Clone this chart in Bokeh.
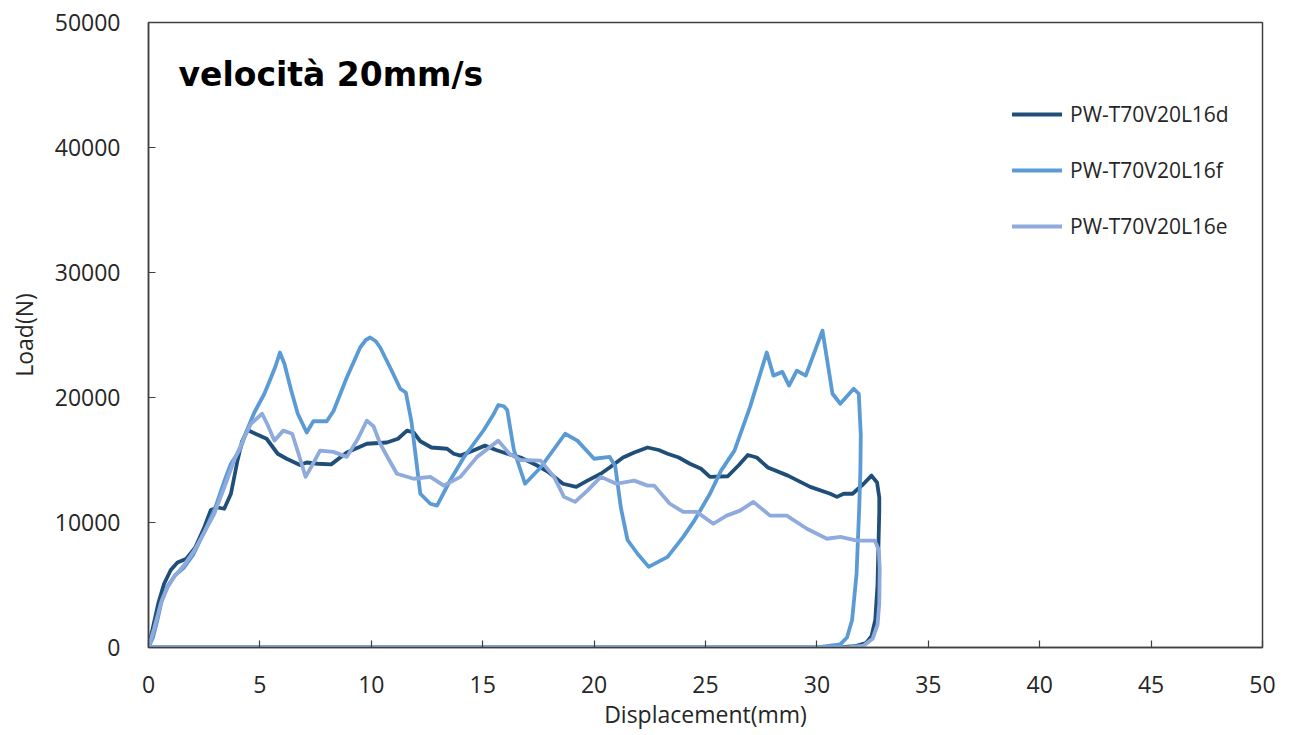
from bokeh.plotting import figure
from bokeh.models import Range1d, FixedTicker, Legend, LegendItem, Label
from bokeh.embed import file_html
from bokeh.resources import INLINE

# Load-displacement traces (loading branch, then unloading back along zero)
d_x = [0, 0.2, 0.45, 0.7, 1.0, 1.3, 1.7, 2.1, 2.5, 2.8, 3.1, 3.4, 3.7, 4.0, 4.2, 4.45,
       4.8, 5.3, 5.8, 6.2, 6.8, 7.1, 7.6, 8.2, 8.9, 9.8, 10.7, 11.2, 11.6, 11.9, 12.2,
       12.7, 13.4, 13.7, 14.0, 14.5, 15.1, 15.6, 16.1, 16.7, 17.4, 17.9, 18.6, 19.2,
       19.7, 20.3, 20.7, 21.3, 21.8, 22.4, 22.9, 23.3, 23.8, 24.3, 24.8, 25.2, 26.0,
       26.5, 26.9, 27.3, 27.8, 28.7, 29.7, 30.6, 30.9, 31.2, 31.6, 32.1, 32.45, 32.7,
       32.8, 32.8, 32.72, 32.62, 32.45, 32.2, 31.7, 31.0, 0]
d_y = [0, 1600, 3600, 5100, 6200, 6800, 7100, 8000, 9600, 11000, 11200, 11100, 12300,
       15000, 16500, 17400, 17100, 16700, 15500, 15100, 14600, 14800, 14700, 14650,
       15600, 16300, 16400, 16700, 17350, 17200, 16500, 16000, 15900, 15500, 15350,
       15700, 16150, 15800, 15500, 15200, 14600, 14100, 13100, 12850, 13350, 13900,
       14400, 15200, 15600, 16000, 15800, 15500, 15200, 14700, 14300, 13650, 13700,
       14600, 15400, 15200, 14400, 13750, 12850, 12300, 12050, 12300, 12300, 13100,
       13750, 13200, 12000, 10900, 5000, 2200, 900, 350, 100, 0, 0]

f_x = [0, 0.2, 0.4, 0.6, 0.85, 1.2, 1.6, 2.0, 2.6, 3.0, 3.4, 3.7, 4.1, 4.4, 4.75, 5.2,
       5.5, 5.7, 5.9, 6.1, 6.4, 6.7, 7.1, 7.4, 8.0, 8.3, 8.9, 9.5, 9.75, 9.95, 10.2,
       10.4, 10.9, 11.3, 11.55, 11.8, 12.2, 12.65, 12.95, 13.55, 14.15, 15.05, 15.5,
       15.7, 15.95, 16.1, 16.4, 16.9, 17.6, 18.7, 19.25, 20.0, 20.7, 20.95, 21.2, 21.5,
       21.95, 22.45, 23.3, 24.0, 24.5, 25.2, 25.7, 26.3, 27.0, 27.75, 28.05, 28.45,
       28.75, 29.1, 29.5, 30.25, 30.7, 31.05, 31.45, 31.65, 31.88, 31.97, 31.95, 31.9,
       31.78, 31.58, 31.35, 31.05, 30.0, 0]
f_y = [0, 800, 2200, 3800, 4900, 5800, 6400, 7400, 9600, 11200, 13300, 14700, 15800,
       17300, 18800, 20300, 21600, 22500, 23600, 22700, 20600, 18700, 17200, 18100,
       18100, 18900, 21600, 24000, 24600, 24800, 24500, 24000, 22200, 20700, 20400,
       18100, 12300, 11500, 11350, 13400, 15200, 17400, 18700, 19400, 19300, 19000,
       15800, 13100, 14400, 17100, 16550, 15100, 15250, 14500, 11200, 8600, 7500, 6450,
       7250, 8850, 10150, 12300, 14150, 15750, 19250, 23600, 21750, 22050, 20950, 22150,
       21750, 25350, 20300, 19500, 20300, 20700, 20300, 17000, 14000, 11200, 5900, 2200,
       800, 250, 0, 0]

e_x = [0, 0.25, 0.55, 0.85, 1.15, 1.6, 2.05, 2.5, 2.95, 3.4, 3.85, 4.25, 4.6, 5.1, 5.35,
       5.65, 6.05, 6.45, 6.75, 7.05, 7.35, 7.7, 8.3, 8.9, 9.4, 9.8, 10.1, 10.4, 10.8,
       11.15, 11.9, 12.65, 13.25, 14.0, 14.75, 15.7, 16.2, 16.7, 17.6, 18.2, 18.65,
       19.15, 19.7, 20.3, 21.0, 21.8, 22.4, 22.7, 23.4, 24.0, 24.6, 25.35, 25.95, 26.55,
       27.15, 27.9, 28.65, 29.55, 30.45, 31.05, 31.8, 32.6, 32.78, 32.82, 32.8, 32.72,
       32.5, 32.1, 31.4, 0]
e_y = [0, 1500, 3500, 4800, 5650, 6600, 7750, 9200, 10700, 12800, 15000, 16600, 17900,
       18700, 17800, 16550, 17350, 17100, 15400, 13650, 14600, 15750, 15650, 15250,
       16700, 18150, 17700, 16300, 15000, 13900, 13500, 13650, 12950, 13650, 15250,
       16550, 15500, 15000, 14950, 13650, 12050, 11650, 12550, 13650, 13100, 13350,
       12950, 12950, 11500, 10850, 10850, 9900, 10550, 10950, 11650, 10550, 10550,
       9500, 8700, 8850, 8550, 8550, 7800, 6300, 3500, 1800, 700, 150, 0, 0]

series_names = ["PW-T70V20L16d", "PW-T70V20L16f", "PW-T70V20L16e"]
series_colors = ["#1F4E79", "#5B9BD5", "#8FAADC"]

x_ticks = [0, 5, 10, 15, 20, 25, 30, 35, 40, 45, 50]
y_ticks = [0, 10000, 20000, 30000, 40000, 50000]

FONT = "Open Sans"
TEXT = "#262626"

p = figure(width=1290, height=735, output_backend="svg", toolbar_location=None,
           x_range=Range1d(0, 50), y_range=Range1d(0, 50000),
           min_border_left=148, min_border_right=28, min_border_top=22,
           min_border_bottom=88)

p.xgrid.visible = False
p.ygrid.visible = False
p.outline_line_color = "#404040"
p.outline_line_width = 1.5
p.background_fill_color = "white"
p.border_fill_color = "white"

for ax in (p.xaxis[0], p.yaxis[0]):
    ax.axis_line_color = "#404040"
    ax.axis_line_width = 1.5
    ax.major_tick_in = 7
    ax.major_tick_out = 0
    ax.minor_tick_in = 0
    ax.minor_tick_out = 0
    ax.major_tick_line_color = "#404040"
    ax.major_tick_line_width = 1.2
    ax.major_label_text_font = FONT
    ax.major_label_text_font_size = "23px"
    ax.major_label_text_color = TEXT
    ax.axis_label_text_font = FONT
    ax.axis_label_text_font_size = "23px"
    ax.axis_label_text_font_style = "normal"
    ax.axis_label_text_color = TEXT

p.xaxis[0].ticker = FixedTicker(ticks=x_ticks)
p.yaxis[0].ticker = FixedTicker(ticks=y_ticks)
p.xaxis[0].axis_label = "Displacement(mm)"
p.yaxis[0].axis_label = "Load(N)"
p.xaxis[0].major_label_standoff = 28
p.xaxis[0].axis_label_standoff = 2
p.yaxis[0].major_label_standoff = 28
p.yaxis[0].axis_label_standoff = 12

items = []
for xs, ys, name, color in zip((d_x, f_x, e_x), (d_y, f_y, e_y), series_names, series_colors):
    r = p.line(xs, ys, line_color=color, line_width=3.8, line_join="round", line_cap="round")
    items.append(LegendItem(label=name, renderers=[r]))

legend = Legend(items=items, location=(864, 407), orientation="vertical",
                border_line_alpha=0, background_fill_alpha=0, padding=0, margin=0,
                spacing=28, glyph_width=50, glyph_height=20, label_height=20,
                label_standoff=8, label_text_font=FONT, label_text_font_size="21px",
                label_text_color=TEXT)
p.add_layout(legend)

title = Label(x=30, y=573, x_units="screen", y_units="screen", text="velocità 20mm/s",
              text_font="DejaVu Sans", text_font_style="bold", text_font_size="33px",
              text_color="#000000", text_baseline="alphabetic")
p.add_layout(title)

open("out.html", "w").write(file_html(p, INLINE))
